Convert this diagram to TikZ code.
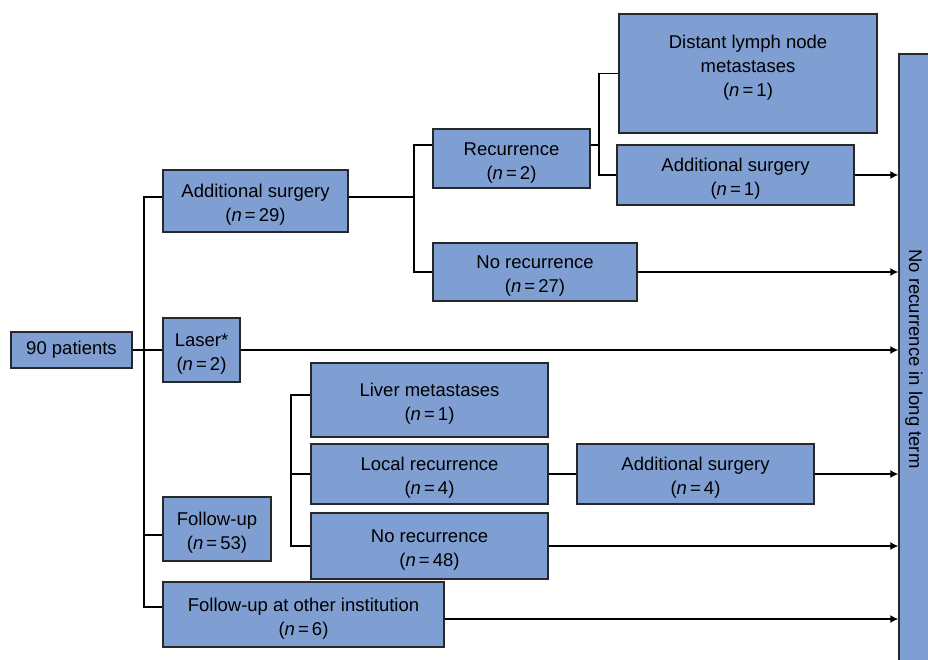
\documentclass[tikz,border=0pt]{standalone}
\usepackage{fontspec}
\setmainfont{Liberation Sans}
\usetikzlibrary{arrows.meta}
\definecolor{boxblue}{RGB}{127,159,211}
\definecolor{boxedge}{RGB}{40,40,40}
% top strut for the two-line boxes
\newcommand{\tp}{\rule{0pt}{21.5pt}}

\begin{document}
\begin{tikzpicture}[
    x=1pt, y=-1pt,
    >={Latex[length=8pt,width=8pt]},
    boxtext/.style={
        align=center,
        inner sep=0pt,
        font=\fontsize{18.5}{24}\selectfont
    },
    box/.style={
        boxtext,
        draw=boxedge,
        line width=1.5pt,
        fill=boxblue
    },
    link/.style={
        line width=1.2pt,
        black
    }
]

\useasboundingbox (0,0) rectangle (928,659);

% ---------------- BOXES ----------------

\node[box, minimum width=121pt, minimum height=36pt] (pat) at (71.5,350) {90 patients};

\node[box, minimum width=185pt, minimum height=62pt] (surg) at (255.5,201)
    {\tp Additional surgery\\(\textit{n}\,=\,29)};
\node[box, minimum width=77pt, minimum height=64pt] (laser) at (201.5,350)
    {\tp Laser*\\(\textit{n}\,=\,2)};
\node[box, minimum width=108pt, minimum height=64pt] (fu) at (217,529)
    {\tp Follow-up\\(\textit{n}\,=\,53)};
\node[box, minimum width=281pt, minimum height=65pt] (fuo) at (303.5,614.5)
    {\tp Follow-up at other institution\\(\textit{n}\,=\,6)};

% after additional surgery
\node[box, minimum width=157pt, minimum height=59pt] (rec) at (511.5,158.5)
    {\tp Recurrence\\(\textit{n}\,=\,2)};
\node[box, minimum width=204pt, minimum height=58pt] (norec) at (535,272)
    {\tp No recurrence\\(\textit{n}\,=\,27)};
\node[box, minimum width=258pt, minimum height=119pt] (dist) at (748,73.5) {};
\node[boxtext] (distt) at ([yshift=6pt]dist.center)
    {Distant lymph node\\metastases\\(\textit{n}\,=\,1)};
\node[box, minimum width=237pt, minimum height=60pt] (surgb) at (735.5,175)
    {\tp Additional surgery\\(\textit{n}\,=\,1)};

% after follow-up
\node[box, minimum width=237pt, minimum height=74pt] (liver) at (429.5,400)
    {\tp Liver metastases\\(\textit{n}\,=\,1)};
\node[box, minimum width=237pt, minimum height=60pt] (local) at (429.5,474)
    {\tp Local recurrence\\(\textit{n}\,=\,4)};
\node[box, minimum width=237pt, minimum height=66pt] (norecb) at (429.5,546)
    {\tp No recurrence\\(\textit{n}\,=\,48)};
\node[box, minimum width=237pt, minimum height=60pt] (surgc) at (695.5,474)
    {\tp Additional surgery\\(\textit{n}\,=\,4)};

% long term
\node[box, rotate=-90, minimum width=610pt, minimum height=30pt] (ltr) at (914,359)
    {No recurrence in long term};

% ---------------- LINKS ----------------

\coordinate (tk) at (144,350);
\coordinate (b1) at (414,197);
\coordinate (b2) at (599,145);
\coordinate (b3) at (291,474);

\draw[link] (pat.east) -- (laser.west);
\draw[link] ([yshift=4pt]surg.west) -| (tk) |- ([yshift=7.5pt]fuo.west);
\draw[link] ([yshift=-6pt]fu.west) -- ([yshift=-6pt]fu.west -| tk);

\draw[link] ([yshift=4pt]surg.east) -- (b1);
\draw[link] ([yshift=13.5pt]rec.west) -| (b1) |- (norec.west);
\draw[link] ([yshift=13.5pt]rec.east) -- (b2);
\draw[link] (dist.west) -| (b2) |- (surgb.west);

\draw[link] ([yshift=5pt]liver.west) -| (b3) |- (norecb.west);
\draw[link] (local.west) -- (b3);
\draw[link] (local.east) -- (surgc.west);

% ---------------- ARROWS ----------------

\draw[link, ->] (surgb.east) -- (surgb.east -| ltr.south);
\draw[link, ->] (norec.east) -- (norec.east -| ltr.south);
\draw[link, ->] (laser.east) -- (laser.east -| ltr.south);
\draw[link, ->] (surgc.east) -- (surgc.east -| ltr.south);
\draw[link, ->] (norecb.east) -- (norecb.east -| ltr.south);
\draw[link, ->] ([yshift=-4.5pt]fuo.east) -- ([yshift=-4.5pt]fuo.east -| ltr.south);

\end{tikzpicture}
\end{document}
